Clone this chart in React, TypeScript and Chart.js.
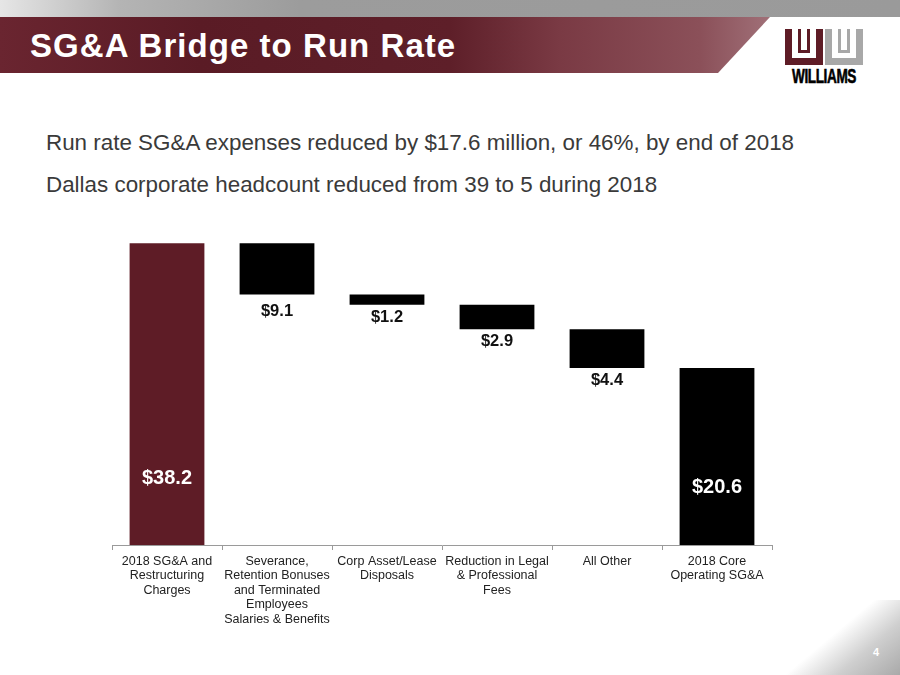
import React, { useEffect, useRef } from "react";
import { Chart, registerables } from "chart.js";

Chart.register(...registerables);

// Categories (multi-line tick labels)
const categories: string[][] = [
  ["2018 SG&A and", "Restructuring", "Charges"],
  ["Severance,", "Retention Bonuses", "and Terminated", "Employees", "Salaries & Benefits"],
  ["Corp Asset/Lease", "Disposals"],
  ["Reduction in Legal", "& Professional", "Fees"],
  ["All Other"],
  ["2018 Core", "Operating SG&A"],
];

// Value labels shown on the chart ($ millions)
const valueLabels: string[] = ["$38.2", "$9.1", "$1.2", "$2.9", "$4.4", "$20.6"];

// Bar extents as plotted in the picture [low, high]
const barLow: number[] = [0, 31.7, 30.4, 27.3, 22.4, 0];
const barHigh: number[] = [38.2, 38.2, 31.7, 30.4, 27.3, 22.4];

const MAROON = "#5E1C26";

const labelPlugin = {
  id: "wfLabels",
  afterDatasetsDraw(chart: any) {
    const ctx = chart.ctx;
    const meta = chart.getDatasetMeta(0);
    const y = chart.scales.y;
    ctx.save();
    ctx.textAlign = "center";
    ctx.textBaseline = "middle";
    meta.data.forEach((bar: any, i: number) => {
      const x = bar.x;
      if (barLow[i] === 0) {
        const h = barHigh[i];
        const frac = i === 0 ? 0.222 : 0.325;
        ctx.font = "bold 20px 'Liberation Sans', Arial, sans-serif";
        ctx.fillStyle = "#ffffff";
        ctx.fillText(valueLabels[i], x, y.getPixelForValue(h * frac));
      } else {
        const bottom = y.getPixelForValue(barLow[i]);
        ctx.font = "bold 16.5px 'Liberation Sans', Arial, sans-serif";
        ctx.fillStyle = "#111111";
        ctx.fillText(valueLabels[i], x, bottom + (i === 1 ? 17 : 12.5));
      }
    });
    ctx.restore();
  },
};

function WaterfallChart() {
  const ref = useRef<HTMLCanvasElement>(null);
  useEffect(() => {
    if (!ref.current) return;
    const chart = new Chart(ref.current, {
      type: "bar",
      data: {
        labels: categories as any,
        datasets: [
          {
            data: barLow.map((lo, i) => [lo, barHigh[i]]) as any,
            backgroundColor: barLow.map((_, i) => (i === 0 ? MAROON : "#000000")),
            borderWidth: 0,
            barPercentage: 0.68,
            categoryPercentage: 1,
          },
        ],
      },
      options: {
        animation: false,
        responsive: false,
        maintainAspectRatio: false,
        layout: { padding: { left: 12, right: 18, top: 29, bottom: 0 } },
        plugins: { legend: { display: false }, tooltip: { enabled: false } },
        scales: {
          x: {
            offset: true,
            grid: {
              display: true,
              offset: true,
              drawOnChartArea: false,
              drawTicks: true,
              tickLength: 5,
              color: "#9a9a9a",
            },
            border: { display: true, color: "#9a9a9a", width: 1 },
            ticks: {
              color: "#222222",
              padding: 4,
              maxRotation: 0,
              autoSkip: false,
              font: { family: "'Liberation Sans', Arial, sans-serif", size: 12.5, lineHeight: 1.16 },
            },
            afterFit: (scale: any) => {
              scale.height = 95;
            },
          },
          y: {
            display: false,
            min: 0,
            max: 40,
          },
        },
      },
      plugins: [labelPlugin],
    });
    return () => chart.destroy();
  }, []);
  return (
    <canvas
      ref={ref}
      width={690}
      height={440}
      style={{ position: "absolute", left: 100, top: 200, width: 690, height: 440 }}
    />
  );
}

export default function App() {
  const font = "'Liberation Sans', Arial, sans-serif";
  return (
    <div
      style={{
        position: "fixed",
        left: 0,
        top: 0,
        width: 900,
        height: 675,
        overflow: "hidden",
        background: "#ffffff",
        fontFamily: font,
      }}
    >
      {/* top gray strip */}
      <div
        style={{
          position: "absolute",
          left: 0,
          top: 0,
          width: 900,
          height: 17,
          background: "linear-gradient(90deg, #e6e6e6 0px, #b4b4b4 120px, #9c9c9c 300px, #9a9a9a 900px)",
        }}
      />
      {/* maroon title band */}
      <div
        style={{
          position: "absolute",
          left: 0,
          top: 17,
          width: 770,
          height: 56,
          background: "linear-gradient(90deg, #6a2530 0px, #5a1b25 200px, #5e1f29 450px, #7a3a44 560px, #8b5059 700px, #a07078 770px)",
          clipPath: "polygon(0 0, 770px 0, 718px 56px, 0 56px)",
        }}
      />
      <div
        style={{
          position: "absolute",
          left: 30,
          top: 26,
          color: "#ffffff",
          fontWeight: "bold",
          fontSize: 33,
          letterSpacing: 1.05,
          lineHeight: "40px",
          whiteSpace: "nowrap",
        }}
      >
        SG&amp;A Bridge to Run Rate
      </div>
      {/* logo */}
      <div style={{ position: "absolute", left: 785, top: 29, width: 38, height: 36, background: MAROON }}>
        <div style={{ position: "absolute", left: 7, top: 0, width: 24, height: 29, background: "#ffffff" }} />
        <div style={{ position: "absolute", left: 13, top: 0, width: 12, height: 24, background: MAROON }} />
        <div style={{ position: "absolute", left: 16, top: 0, width: 6, height: 21, background: "#ffffff" }} />
      </div>
      <div style={{ position: "absolute", left: 825, top: 29, width: 38, height: 36, background: "#a8a8a8" }}>
        <div style={{ position: "absolute", left: 7, top: 0, width: 24, height: 29, background: "#ffffff" }} />
        <div style={{ position: "absolute", left: 13, top: 0, width: 12, height: 24, background: "#a8a8a8" }} />
        <div style={{ position: "absolute", left: 16, top: 0, width: 6, height: 21, background: "#ffffff" }} />
      </div>
      <div
        style={{
          position: "absolute",
          left: 764,
          top: 66,
          width: 120,
          textAlign: "center",
          fontWeight: 900,
          fontSize: 20,
          lineHeight: "20px",
          color: "#000",
          transform: "scaleX(0.68)",
          transformOrigin: "center",
          letterSpacing: -0.6,
          WebkitTextStroke: "0.6px #000",
        }}
      >
        WILLIAMS
      </div>
      {/* subtitle */}
      <div
        style={{
          position: "absolute",
          left: 46,
          top: 129,
          color: "#3a3a3a",
          fontSize: 22.4,
          lineHeight: "28px",
          whiteSpace: "nowrap",
        }}
      >
        Run rate SG&amp;A expenses reduced by $17.6 million, or 46%, by end of 2018
      </div>
      <div
        style={{
          position: "absolute",
          left: 46,
          top: 171,
          color: "#3a3a3a",
          fontSize: 22.4,
          lineHeight: "28px",
          whiteSpace: "nowrap",
        }}
      >
        Dallas corporate headcount reduced from 39 to 5 during 2018
      </div>
      {/* bottom-right gray corner */}
      <div
        style={{
          position: "absolute",
          left: 780,
          top: 600,
          width: 120,
          height: 75,
          background: "linear-gradient(140deg, rgba(255,255,255,0) 45%, #cfcfcf 70%, #a9a9a9 100%)",
        }}
      />
      <div
        style={{
          position: "absolute",
          left: 873,
          top: 645,
          color: "#ffffff",
          fontWeight: "bold",
          fontSize: 11,
          lineHeight: "14px",
        }}
      >
        4
      </div>
      <WaterfallChart />
    </div>
  );
}
